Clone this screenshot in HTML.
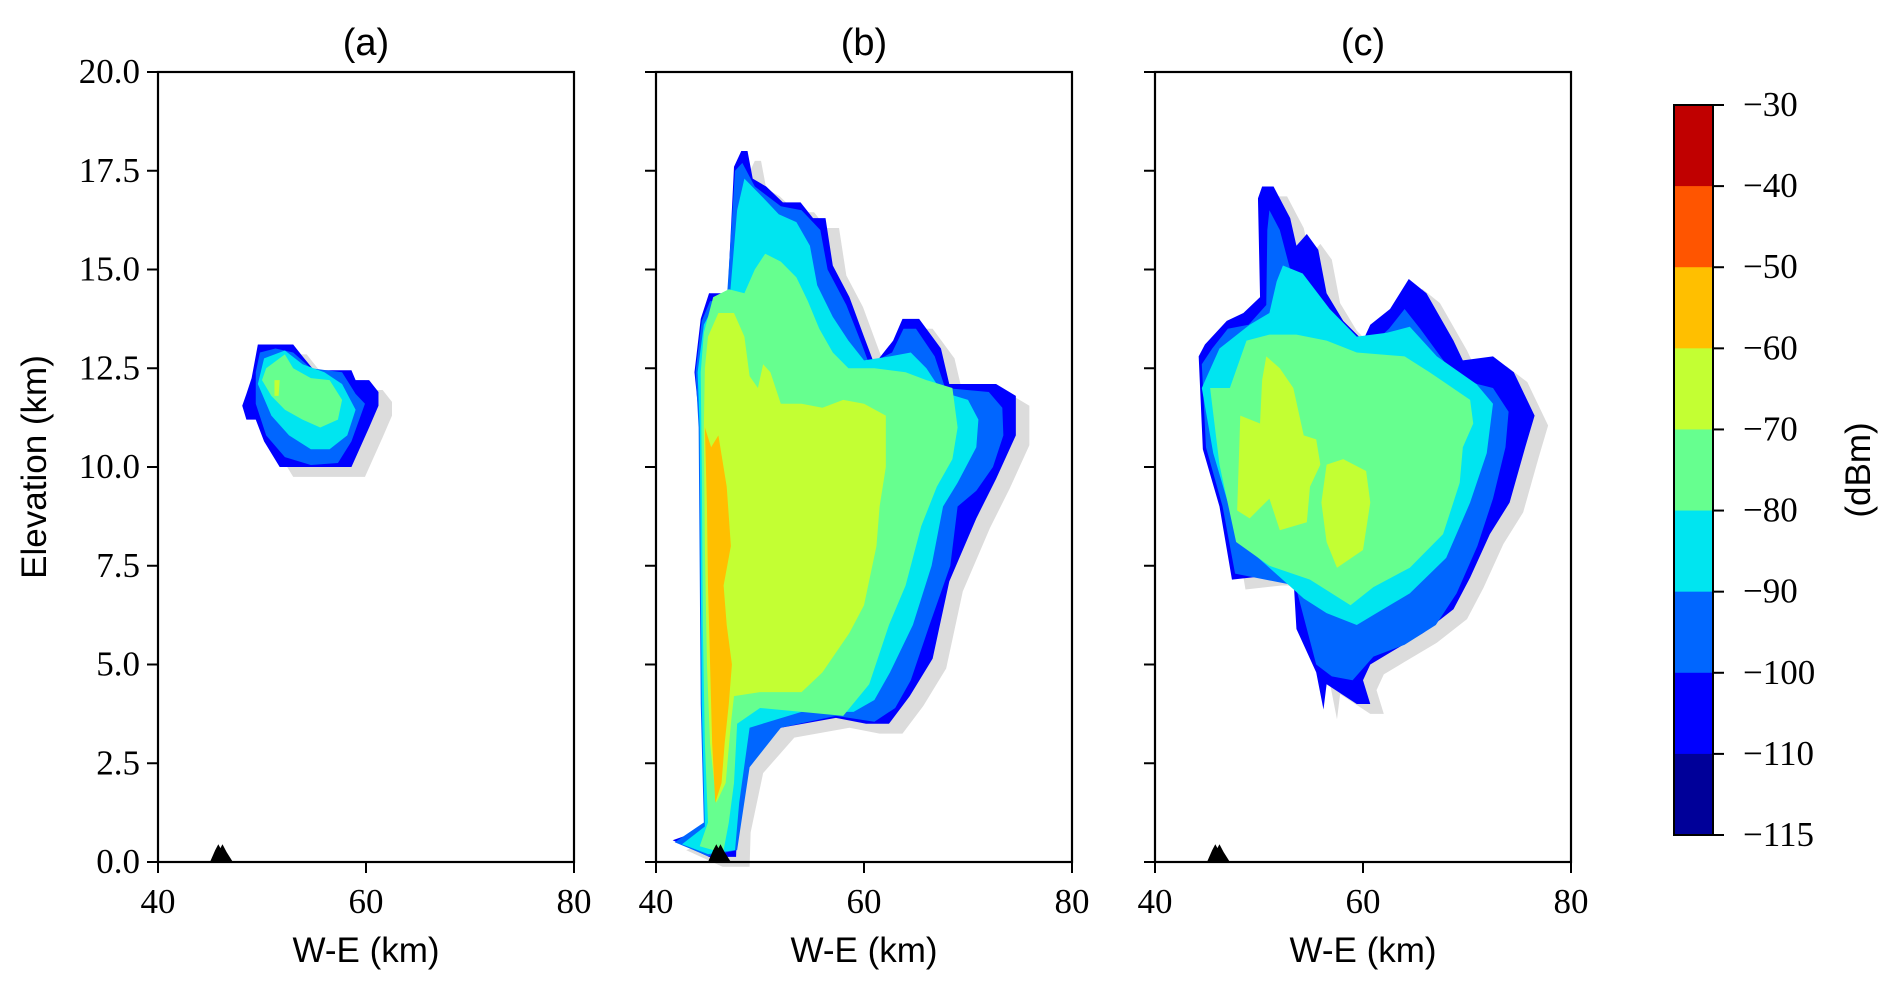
<!DOCTYPE html>
<html><head><meta charset="utf-8">
<style>
html,body{margin:0;padding:0;background:#fff;}
svg{display:block;}
.tk{font-family:"Liberation Serif",serif;font-size:35px;fill:#000;}
.lb{font-family:"Liberation Sans",sans-serif;font-size:35px;fill:#000;}
</style></head>
<body>
<svg id="fig" width="1892" height="989" viewBox="0 0 1892 989" xmlns="http://www.w3.org/2000/svg"></svg>
<script>
// ---- data ----
const yTicks = [0, 2.5, 5, 7.5, 10, 12.5, 15, 17.5, 20];
const xTicks = [40, 60, 80];
const panelTitles = ["(a)", "(b)", "(c)"];
const cbarLevels = [-30, -40, -50, -60, -70, -80, -90, -100, -110, -115];
const cbarColors = ["#c00000", "#ff5500", "#ffbf00", "#c3ff33", "#66ff8f", "#00e5f0", "#0066ff", "#0000ff", "#000099"];
// contour polygons in data units [km W-E, km elevation]; level = lower bound (dBm)
const contoursA = [
 {level:-110, pts:[[49.6,13.1],[53.0,13.1],[53.9,12.8],[55,12.45],[58.6,12.45],[59,12.2],[60.3,12.2],[61.2,11.9],[61.2,11.55],[60.3,11.0],[58.6,10.0],[51.7,10.0],[50.2,10.65],[49.4,11.2],[48.5,11.2],[48.1,11.55],[48.5,11.85],[49,12.25]]},
 {level:-100, pts:[[49.8,12.9],[51.3,13.0],[53.0,12.9],[54.7,12.5],[57.7,12.4],[59,11.85],[59.9,11.6],[58.6,10.65],[57.3,10.1],[54.7,10.05],[52.2,10.25],[50.4,10.8],[49.4,11.6],[49.4,12.4]]},
 {level:-90, pts:[[50.2,12.75],[52.2,12.95],[53.9,12.6],[56,12.4],[57.7,12.1],[59,11.45],[58.2,10.8],[56.5,10.45],[54.7,10.45],[52.6,10.8],[50.9,11.3],[49.6,12.1]]},
 {level:-80, pts:[[50.4,12.5],[52.2,12.85],[53,12.5],[54.7,12.25],[56.5,12.2],[57.7,11.7],[57.3,11.2],[55.6,11.0],[53.9,11.2],[52.2,11.45],[50.9,11.8],[50,12.2]]},
 {level:-70, pts:[[51.2,12.2],[51.7,12.2],[51.6,11.8],[51.2,11.8]]}
];
const contoursB = [
 {level:-110, pts:[[48.2,18.0],[48.8,18.0],[49.3,17.3],[50.6,17.1],[52.2,16.7],[53.9,16.7],[55.1,16.3],[56.3,16.3],[57.0,15.1],[58.6,14.3],[60.0,13.3],[61.0,12.6],[62.8,13.2],[63.7,13.75],[65.3,13.75],[67.4,13.0],[68.2,12.1],[72.7,12.1],[74.6,11.8],[74.6,10.8],[72.7,9.7],[70.8,8.7],[68.2,7.1],[66.6,5.15],[64.4,4.2],[62.4,3.5],[60.2,3.5],[57.3,3.65],[52,3.4],[49,2.5],[47.8,1.0],[47.7,0.13],[45.1,0.13],[41.6,0.55],[43.2,0.7],[44.8,0.85],[44.5,4.2],[44.2,11.1],[43.7,12.4],[44.3,13.75],[45.1,14.4],[46.9,14.4],[47.5,17.6]]},
 {level:-100, pts:[[48.3,17.7],[49.5,17.1],[52,16.6],[54,16.5],[55.8,16.0],[56.5,15.0],[58.3,14.1],[59.8,13.1],[60.5,12.6],[62.7,12.9],[63.8,13.5],[65,13.5],[66.8,12.8],[67.8,12.0],[72,11.9],[73.3,11.5],[73.4,10.8],[72.4,10.0],[70.8,9.4],[69,9],[68.3,7.5],[66.3,6],[64.5,4.6],[63,3.9],[61,3.55],[57.3,3.7],[52,3.4],[49,2.4],[47.8,0.3],[45,0.15],[41.8,0.5],[44.6,1.0],[44.3,4],[44.1,11],[43.8,12.4],[44.4,13.7],[45.2,14.2],[46.8,14.2],[47.6,17.5]]},
 {level:-90, pts:[[48.5,17.3],[50,16.9],[51.8,16.4],[53.5,16.2],[54.8,15.6],[55.5,14.6],[57,13.8],[58.5,13.2],[60,12.7],[62.5,12.8],[64.5,12.9],[66,12.5],[67.5,11.9],[70,11.7],[71,11.2],[70.8,10.5],[69,9.6],[67.6,9],[66.5,7.5],[64.7,6],[62.5,4.8],[61,4.1],[59,3.8],[54,3.8],[49,3.4],[48,1.5],[47.6,0.3],[45,0.2],[42.5,0.45],[44.7,0.9],[44.4,4],[44.2,11],[44,12.4],[44.6,13.6],[45.4,14.0],[47,14.0],[47.8,16.5]]},
 {level:-80, pts:[[44.6,13.4],[45.5,14.3],[47,14.5],[48.5,14.4],[49.5,15.0],[50.5,15.4],[52,15.2],[53.5,14.8],[54.6,14.2],[55.7,13.5],[57,12.9],[58.5,12.5],[61,12.5],[64,12.4],[66,12.2],[68.5,12.0],[69,11.0],[68.5,10.2],[67,9.5],[65.5,8.5],[64,7.0],[62.4,6.0],[60.5,4.5],[58,3.7],[54,3.8],[50,3.9],[47.8,3.5],[47.5,2],[47,1],[46.5,0.3],[45.5,0.3],[44.2,0.4],[45,1],[44.7,3],[44.5,6],[44.4,10],[44.3,12.4]]},
 {level:-70, pts:[[45.0,13.3],[46,13.9],[47.5,13.9],[48.5,13.3],[49,12.3],[49.8,12],[50.3,12.6],[51,12.4],[52,11.6],[54,11.6],[56,11.5],[58,11.7],[60,11.6],[62.1,11.3],[62.1,10],[61.5,9],[61.2,8],[60,6.5],[58.6,5.8],[56,4.8],[54,4.3],[50,4.3],[47.5,4.2],[47.2,3.5],[46.7,2.0],[45.8,1.5],[45.2,3],[44.9,5],[44.7,8],[44.6,11],[44.7,12.5]]},
 {level:-60, pts:[[44.7,11],[45.3,10.5],[46.0,10.8],[46.8,9.5],[47.2,8],[46.5,7],[46.8,6],[47.3,5],[47,4],[46.6,3],[46.3,2],[45.7,1.5],[45.4,3],[45.2,5],[45,7],[44.9,9]]}
];
const contoursC = [
 {level:-110, pts:[[50.3,17.1],[51.4,17.1],[52.3,16.65],[53,16.3],[53.6,15.6],[54.6,15.9],[55.7,15.5],[56.5,14.4],[58.1,13.7],[60,13.2],[60.7,13.6],[62.6,14.0],[64.4,14.76],[66.1,14.4],[68.7,13.2],[69.6,12.7],[72.5,12.8],[74.5,12.4],[76.5,11.3],[75.6,10.5],[74.1,9.1],[72.2,8.3],[70.3,7.2],[68.7,6.4],[65.8,5.8],[62.6,5.3],[60.7,5.0],[60,4.6],[60.7,4.0],[59.4,4.0],[56.5,4.5],[56.2,3.86],[55.5,4.8],[53.6,5.9],[53.3,7.25],[50.9,7.25],[47.4,7.15],[46.2,9.0],[44.6,10.45],[44.2,12.8],[44.8,13.1],[46.9,13.7],[48.5,13.9],[50.1,14.3],[49.9,16.8]]},
 {level:-100, pts:[[51.0,16.5],[52.0,16.0],[53.0,15.0],[55.0,14.6],[56.0,13.8],[58,13.2],[60,12.9],[62.5,13.5],[64,14.0],[65.5,13.5],[68,12.6],[69.5,12.2],[72.5,12.0],[74,11.4],[73.7,10.5],[72.5,9.2],[71,8.0],[69,6.8],[67,6.0],[64,5.5],[61,5.2],[59,4.6],[57,4.7],[55.5,5.0],[54.5,6.0],[53.5,7.0],[47.7,7.3],[46.5,9.0],[44.9,10.5],[44.5,12.6],[45.5,13.0],[47,13.5],[49,13.6],[50.7,14.1],[50.8,16.0]]},
 {level:-90, pts:[[52.3,15.1],[54.2,14.9],[56.8,14.0],[59.4,13.3],[62.3,13.4],[64.5,13.55],[67.1,12.8],[70.9,12.1],[72.5,11.6],[71.9,10.35],[70.3,9.1],[68,7.7],[64.5,6.8],[61.3,6.3],[59.4,6.0],[56.5,6.3],[54.3,6.67],[49.5,7.8],[47.9,8.3],[45.6,10.35],[44.5,12.0],[46.2,13.0],[49.1,13.6],[51,13.9],[51.7,14.7]]},
 {level:-80, pts:[[51,13.35],[53.6,13.35],[56.5,13.2],[59.4,12.9],[64,12.8],[66.4,12.4],[70.3,11.7],[70.6,11.1],[69.6,10.5],[69.3,9.6],[67.7,8.3],[64.5,7.45],[61,6.96],[58.8,6.5],[54.9,7.15],[51,7.5],[47.8,8.1],[46.2,10.06],[45.3,12.0],[47.2,12.0],[48.8,13.2]]},
 {level:-70, pts:[[50.7,12.8],[52,12.5],[53.3,12.0],[54.3,10.8],[55.5,10.7],[55.9,10.06],[54.9,9.5],[54.6,8.6],[52,8.4],[51,9.2],[49.1,8.7],[47.9,8.9],[48.2,11.3],[50.1,11.1],[50.3,12.2]]},
 {level:-70, pts:[[56.5,10.06],[58.1,10.2],[60.3,9.9],[60.7,9.1],[60,7.9],[57.5,7.45],[56.5,8.1],[56,9.1]]}
];
const radarSite = [[45.0,0],[45.5,0.3],[45.8,0.45],[46.0,0.35],[46.2,0.45],[46.6,0.25],[47.2,0]];

// ---- layout ----
const NS = "http://www.w3.org/2000/svg";
const svg = document.getElementById('fig');
const panelX0 = [158, 656, 1155];
const PW = 416, PT = 72, PB = 862;
const allContours = [contoursA, contoursB, contoursC];
function mk(tag, attrs, parent){const e=document.createElementNS(NS,tag);for(const k in attrs)e.setAttribute(k,attrs[k]);(parent||svg).appendChild(e);return e;}
function levelColor(level){
  for(let i=0;i<cbarColors.length;i++){ if(level>=cbarLevels[i+1] && level<cbarLevels[i]) return cbarColors[i]; }
  return cbarColors[cbarColors.length-1];
}

panelX0.forEach((x0,pi)=>{
  const xs = x => x0 + (x-40)/40*PW;
  const ys = y => PB - y/20*(PB-PT);
  const g = mk('g',{});
  
  
  const cs = allContours[pi];
  const halo = mk('polygon',{points:cs[0].pts.map(p=>xs(p[0]+1.3)+','+ys(p[1]-0.25)).join(' '),fill:'#dcdcdc'},g);
  
  
  cs.forEach((c,ci)=>{
    const pg = mk('polygon',{points:c.pts.map(p=>xs(p[0])+','+ys(p[1])).join(' '),fill:levelColor(c.level)},g);
    
    
  });
  const site = mk('polygon',{points:radarSite.map(p=>xs(p[0])+','+ys(p[1])).join(' '),fill:'#000'},g);
  
  
  const fr = mk('rect',{x:x0,y:PT,width:PW,height:PB-PT,fill:'none',stroke:'#000','stroke-width':2.2},g);
  
  
  yTicks.forEach(t=>{
    const tl = mk('line',{x1:x0-11,x2:x0,y1:ys(t),y2:ys(t),stroke:'#000','stroke-width':2},g);
    
    
    if(pi===0){
      const tx = mk('text',{x:x0-18,y:ys(t)+11,'text-anchor':'end',class:'tk'},g);
      tx.textContent = t.toFixed(1);
      
      
    }
  });
  xTicks.forEach(t=>{
    const tl = mk('line',{x1:xs(t),x2:xs(t),y1:PB,y2:PB+11,stroke:'#000','stroke-width':2},g);
    
    
    const tx = mk('text',{x:xs(t),y:PB+51,'text-anchor':'middle',class:'tk'},g);
    tx.textContent = t;
    
    
  });
  const xl = mk('text',{x:x0+PW/2,y:962,'text-anchor':'middle',class:'lb'},g);
  xl.textContent = 'W-E (km)';
  
  
  const tt = mk('text',{x:x0+PW/2,y:55,'text-anchor':'middle',class:'lb'},g);
  tt.setAttribute('style','font-size:38px');
  tt.textContent = panelTitles[pi];
  
  
});
const yl = mk('text',{x:0,y:0,'text-anchor':'middle',class:'lb',transform:'translate(46,467) rotate(-90)'});
yl.textContent = 'Elevation (km)';



// colorbar
const CX = 1674, CW = 39, CT = 105, CB = 835;
const segH = (CB-CT)/cbarColors.length;
const cg = mk('g',{});


cbarColors.forEach((c,i)=>{
  const r = mk('rect',{x:CX,y:CT+i*segH,width:CW,height:segH+0.5,fill:c},cg);
  
  
});
const cf = mk('rect',{x:CX,y:CT,width:CW,height:CB-CT,fill:'none',stroke:'#000','stroke-width':2},cg);


cbarLevels.forEach((v,i)=>{
  const y = CT+i*segH;
  const l = mk('line',{x1:CX+CW,x2:CX+CW+11,y1:y,y2:y,stroke:'#000','stroke-width':2},cg);
  
  
  const t = mk('text',{x:CX+CW+30,y:y+11,class:'tk'},cg);
  t.textContent = '\u2212'+Math.abs(v);
  
  
});
const cl = mk('text',{x:0,y:0,'text-anchor':'middle',class:'lb',transform:'translate(1870,470) rotate(-90)'},cg);
cl.textContent = '(dBm)';


</script>
</body></html>
